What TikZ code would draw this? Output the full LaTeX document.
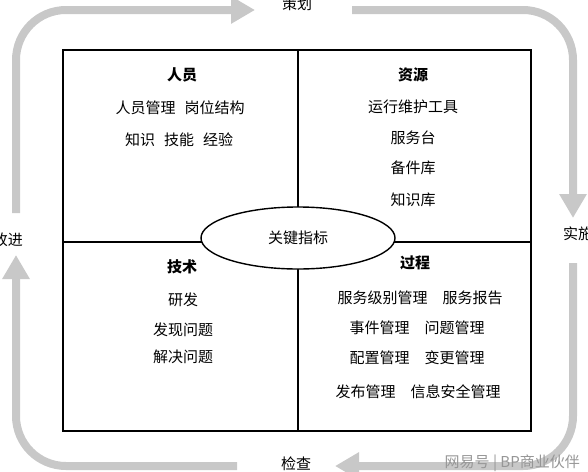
\documentclass[tikz,border=0pt]{standalone}
\usepackage{fontspec}
\newfontfamily\cjk{Noto Sans CJK SC}
\usepackage{tikz}
\usetikzlibrary{arrows.meta}

\definecolor{loopgray}{RGB}{200,200,200}
\definecolor{markgray}{RGB}{150,150,150}

\tikzset{
    txt/.style={font=\cjk\fontsize{15}{17}\selectfont, inner sep=0pt},
    head/.style={txt, font=\cjk\bfseries\fontsize{15}{17}\selectfont},
    loop/.style={line width=8pt, draw=loopgray, rounded corners=50pt,
        -{Triangle[width=26pt,length=24pt]}},
}

\begin{document}
\begin{tikzpicture}[x=1pt, y=-1pt]
    \useasboundingbox (0,0) rectangle (588,471);

    % Draw the outer square and its partitions
    \draw[line width=1.4pt] (63,50) rectangle (531,431);
    \draw[line width=1.4pt] (298,50) -- (298,431);
    \draw[line width=1.4pt] (63,242) -- (531,242);

    % Ellipse in the middle
    \draw[line width=1.4pt, fill=white] (298,238) ellipse (97pt and 31pt);
    \node[txt] (key) at (298,238) {关键指标};

    % Top left: people
    \node[head] (ppl) at (182,75) {人员};
    \node[txt] (ppl1) at (180,108) {人员管理\hspace{0.6em}岗位结构};
    \node[txt] (ppl2) at (179,140) {知识\hspace{0.6em}技能\hspace{0.6em}经验};

    % Top right: resources
    \node[head] (res) at (413,75) {资源};
    \node[txt] (res1) at (413,107) {运行维护工具};
    \node[txt] (res2) at (413,138) {服务台};
    \node[txt] (res3) at (413,168) {备件库};
    \node[txt] (res4) at (413,200) {知识库};

    % Bottom left: technology
    \node[head] (tec) at (182,267) {技术};
    \node[txt] (tec1) at (183,300) {研发};
    \node[txt] (tec2) at (183,330) {发现问题};
    \node[txt] (tec3) at (183,357) {解决问题};

    % Bottom right: process
    \node[head] (prc) at (415,263) {过程};
    \node[txt] (prc1) at (420,298) {服务级别管理\quad 服务报告};
    \node[txt] (prc2) at (417,328) {事件管理\quad 问题管理};
    \node[txt] (prc3) at (417,358) {配置管理\quad 变更管理};
    \node[txt] (prc4) at (418,392) {发布管理\quad 信息安全管理};

    % Labels of the cycle
    \node[txt] (plan) at (297,4) {策划};
    \node[txt] (doit) at (578,234) {实施};
    \node[txt] (check) at (296,464) {检查};
    \node[txt] (act) at (8,240) {改进};

    % Ends of the cycle arrows
    \coordinate (a1) at (16,213);
    \coordinate (a2) at (255,10);
    \coordinate (b1) at (352,10);
    \coordinate (b2) at (573,218);
    \coordinate (c1) at (573,263);
    \coordinate (c2) at (335,466);
    \coordinate (d1) at (237,466);
    \coordinate (d2) at (16,255);

    % Cycle arrows
    \draw[loop] (a1) |- (a2);
    \draw[loop] (b1) -| (b2);
    \draw[loop] (c1) |- (c2);
    \draw[loop] (d1) -| (d2);

    % Mark at the bottom
    \node[txt, text=markgray, anchor=east] (mark) at (580,463) {网易号 | BP商业伙伴};
\end{tikzpicture}
\end{document}
